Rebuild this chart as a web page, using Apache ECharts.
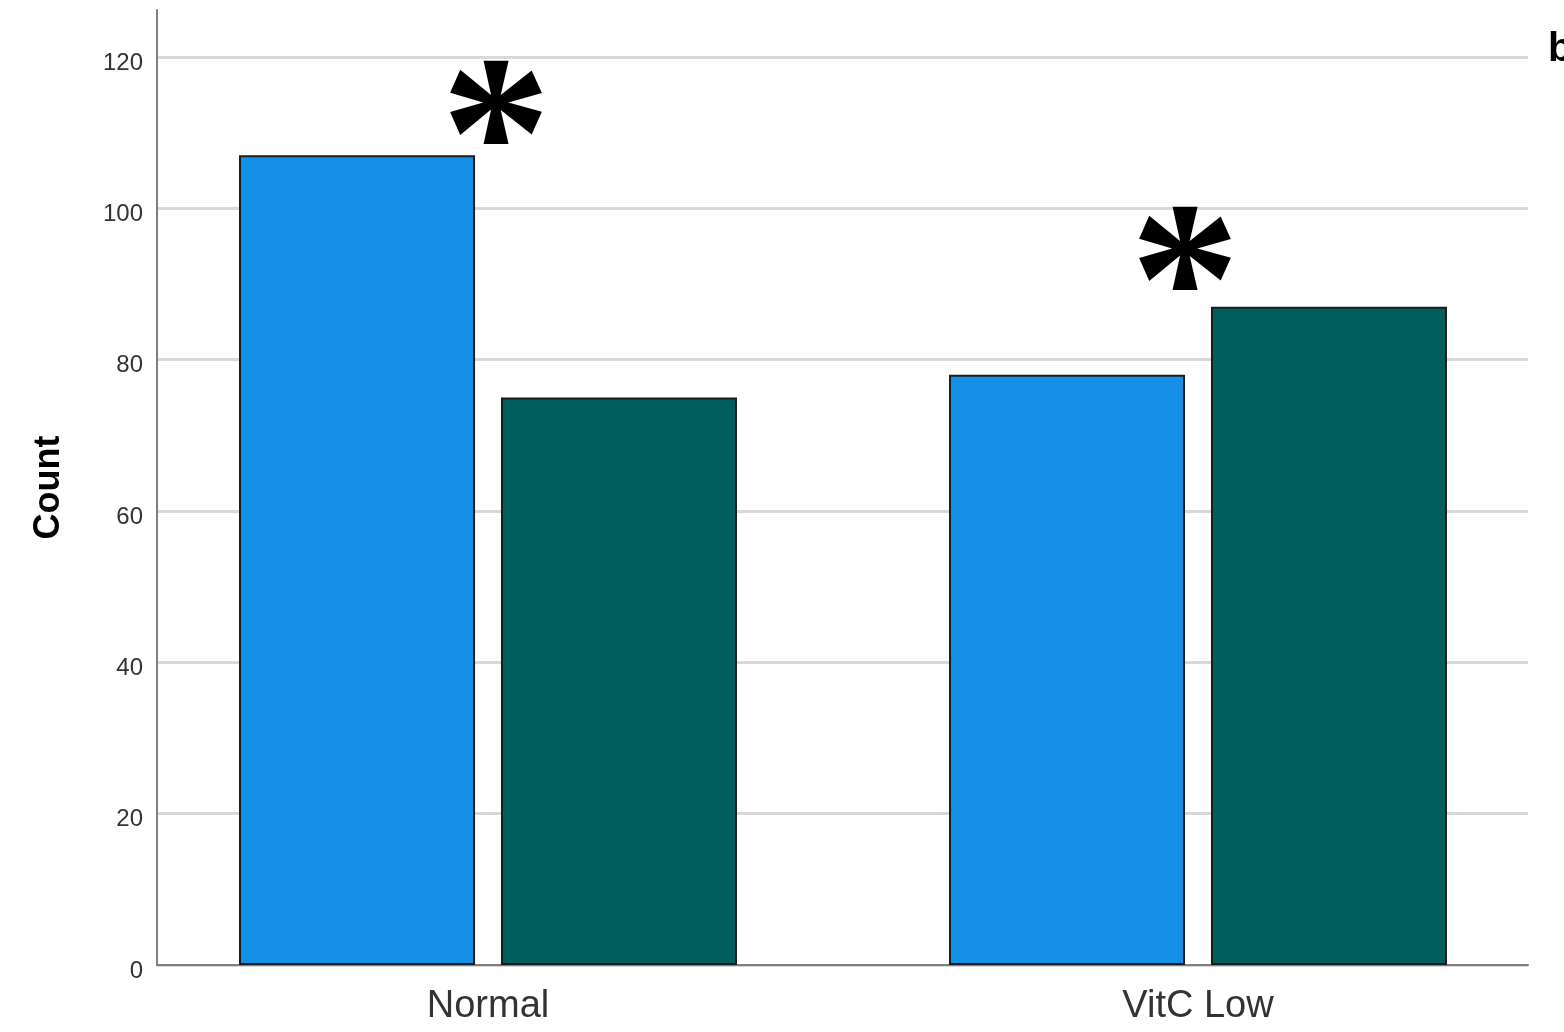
<!DOCTYPE html>
<html>
<head>
<meta charset="utf-8">
<script src="https://cdn.jsdelivr.net/npm/echarts@6/dist/echarts.min.js"></script>
<style>html,body{margin:0;padding:0;background:#fff;}#c{width:1564px;height:1032px;}</style>
</head>
<body>
<div id="c"></div>
<script>
const categories = ['Normal', 'VitC Low'];
const seriesA = [107, 78];
const seriesB = [75, 87];
const yTicks = [0, 20, 40, 60, 80, 100, 120];

const chart = echarts.init(document.getElementById('c'), null, {renderer: 'canvas'});
const G = {top: 57, bottom: 67};
const starLabel = function (pos) {
  return {
    show: true, formatter: '*', position: pos, align: 'center', verticalAlign: 'middle',
    fontFamily: 'Liberation Serif', fontWeight: 'bold', fontSize: 220, color: '#000'
  };
};
const option = {
  animation: false,
  backgroundColor: '#fff',
  grid: [
    {left: 157, right: 36, top: 10, bottom: G.bottom},
    {left: 157, right: 36, top: G.top, bottom: G.bottom},
    {left: 133, right: 11, top: G.top, bottom: G.bottom}
  ],
  xAxis: [
    {gridIndex: 0, type: 'value', min: 0, max: 1, axisLine: {show: true, onZero: false, lineStyle: {color: '#7f7f7f', width: 2}}, axisTick: {show: false}, axisLabel: {show: false}, splitLine: {show: false}},
    {gridIndex: 1, type: 'category', data: categories, show: false},
    {gridIndex: 2, type: 'category', data: categories, axisLine: {show: false}, axisTick: {show: false},
      axisLabel: {fontFamily: 'Liberation Sans', fontSize: 38, color: '#333', margin: 23}}
  ],
  yAxis: [
    {gridIndex: 0, type: 'value', min: 0, max: 1, axisLine: {show: true, onZero: false, lineStyle: {color: '#7f7f7f', width: 2}}, axisTick: {show: false}, axisLabel: {show: false}, splitLine: {show: false},
      name: 'Count', nameLocation: 'middle', nameGap: 90, nameRotate: 90,
      nameTextStyle: {fontFamily: 'Liberation Sans', fontWeight: 'bold', fontSize: 36, color: '#000'}},
    {gridIndex: 1, type: 'value', min: yTicks[0], max: yTicks[yTicks.length - 1], interval: 20,
      axisLine: {show: false}, axisTick: {show: false},
      axisLabel: {fontFamily: 'Liberation Sans', fontSize: 24, color: '#333', margin: 14, verticalAlign: 'top', lineHeight: 12},
      splitLine: {show: true, lineStyle: {color: '#d9d9d9', width: 3}}},
    {gridIndex: 2, type: 'value', min: 0, max: 120, show: false}
  ],
  series: [
    {type: 'bar', xAxisIndex: 2, yAxisIndex: 2, barWidth: 236, barGap: '11%',
      itemStyle: {color: '#1490e6', borderColor: '#1c1c1c', borderWidth: 2},
      data: seriesA.map((v, i) => i === 0 ? {value: v, label: starLabel([257, -6])} : v)},
    {type: 'bar', xAxisIndex: 2, yAxisIndex: 2, barWidth: 236,
      itemStyle: {color: '#005e5c', borderColor: '#1c1c1c', borderWidth: 2},
      data: seriesB.map((v, i) => i === 1 ? {value: v, label: starLabel([-26, -12])} : v)}
  ],
  graphic: [
    {type: 'text', left: 1548, top: 30, style: {text: 'b', fontFamily: 'Liberation Sans', fontWeight: 'bold', fontSize: 40, fill: '#000'}}
  ]
};
chart.setOption(option);
</script>
</body>
</html>
